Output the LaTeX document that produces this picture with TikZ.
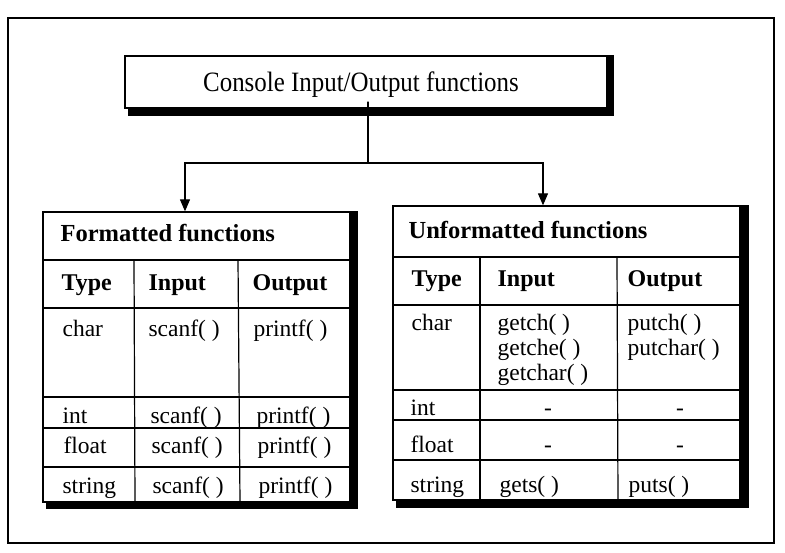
\documentclass[tikz,border=0pt]{standalone}
\usepackage{fontspec}
\setmainfont{Liberation Serif}
\newfontfamily\titlefont[FakeStretch=0.89]{Liberation Serif}
\usetikzlibrary{arrows.meta}
\begin{document}
\begin{tikzpicture}[x=1pt,y=-1pt,line width=1.2pt,
  every node/.style={inner sep=0pt,font=\fontsize{23.5}{25}\selectfont},
  framebox/.style={draw,fill=white,rectangle,line width=1.3pt},
  txt/.style={anchor=base west},
  hd/.style={anchor=base west,font=\fontsize{24}{25}\selectfont\bfseries},
  ttl/.style={anchor=base west,font=\fontsize{24.5}{26}\selectfont\bfseries},
  dashcell/.style={anchor=base},
  arr/.style={-{Triangle[length=12pt,width=10pt]},line width=1.2pt}]
\useasboundingbox (0,0) rectangle (785,552);
% outer frame
\draw[line width=1.5pt] (8,18) rectangle (774,543);
% top box
\node[framebox,minimum width=482pt,minimum height=52pt,text depth=0pt,
      font=\titlefont\fontsize{28}{30}\selectfont] (console) at (366,82)
      {Console Input/Output functions\hspace*{10pt}};
\fill ([xshift=4pt]console.south west) rectangle ([shift={(6,7)}]console.south east);
\fill (console.north east) rectangle ([shift={(6,7)}]console.south east);
% left table
\node[framebox,minimum width=307pt,minimum height=290pt] (ftab) at (196.5,357) {};
\fill ([xshift=4pt]ftab.south west) rectangle ([shift={(7,6)}]ftab.south east);
\fill (ftab.north east) rectangle ([shift={(7,6)}]ftab.south east);
\draw (43,260) -- (350,260);
\draw (43,308) -- (350,308);
\draw (43,397) -- (350,397);
\draw (43,428) -- (350,428);
\draw (43,467) -- (350,467);
\draw (134,260) -- (135,502);
\draw (238,260) -- (240,502);
\node[ttl] (ftitle) at (60,241) {Formatted functions};
\node[hd] (fh1) at (61,290) {Type};
\node[hd] (fh2) at (148,290) {Input};
\node[hd] (fh3) at (252,290) {Output};
\node[txt] (fc1) at (62,336) {char};
\node[txt] (fc2) at (148,336) {scanf( )};
\node[txt] (fc3) at (253,336) {printf( )};
\node[txt] (fi1) at (62,423) {int};
\node[txt] (fi2) at (150,423) {scanf( )};
\node[txt] (fi3) at (256,423) {printf( )};
\node[txt] (ff1) at (63,453) {float};
\node[txt] (ff2) at (151,453) {scanf( )};
\node[txt] (ff3) at (257,453) {printf( )};
\node[txt] (fs1) at (62,493) {string};
\node[txt] (fs2) at (152,493) {scanf( )};
\node[txt] (fs3) at (258,493) {printf( )};
% right table
\node[framebox,minimum width=347pt,minimum height=294pt] (utab) at (566.5,353) {};
\fill ([xshift=4pt]utab.south west) rectangle ([shift={(8,7)}]utab.south east);
\fill (utab.north east) rectangle ([shift={(8,7)}]utab.south east);
\draw (393,257) -- (740,257);
\draw (393,305) -- (740,305);
\draw (393,390) -- (740,390);
\draw (393,420) -- (740,420);
\draw (393,460) -- (740,460);
\draw (480,257) -- (480,500);
\draw (617,257) -- (618,500);
\node[ttl] (utitle) at (408,238) {Unformatted functions};
\node[hd] (uh1) at (411,286) {Type};
\node[hd] (uh2) at (497,286) {Input};
\node[hd] (uh3) at (627,286) {Output};
\node[txt] (uc1) at (411,330) {char};
\node[txt] (uc2a) at (497,330) {getch( )};
\node[txt] (uc2b) at (497,355) {getche( )};
\node[txt] (uc2c) at (497,380) {getchar( )};
\node[txt] (uc3a) at (627,330) {putch( )};
\node[txt] (uc3b) at (627,355) {putchar( )};
\node[txt] (ui1) at (410,415) {int};
\node[dashcell] (ui2) at (548,415) {-};
\node[dashcell] (ui3) at (680,415) {-};
\node[txt] (uf1) at (410,452) {float};
\node[dashcell] (uf2) at (548,452) {-};
\node[dashcell] (uf3) at (680,452) {-};
\node[txt] (us1) at (410,492) {string};
\node[txt] (us2) at (499,492) {gets( )};
\node[txt] (us3) at (628,492) {puts( )};
% connectors
\coordinate (split) at (368,163);
\draw ([xshift=2pt]console.south) -- ([yshift=7pt]console.south -| split) -- (split);
\draw[arr] (split) -| ([xshift=-11.5pt]ftab.north);
\draw[arr] (split) -| ([xshift=-23.5pt]utab.north);
\end{tikzpicture}
\end{document}
